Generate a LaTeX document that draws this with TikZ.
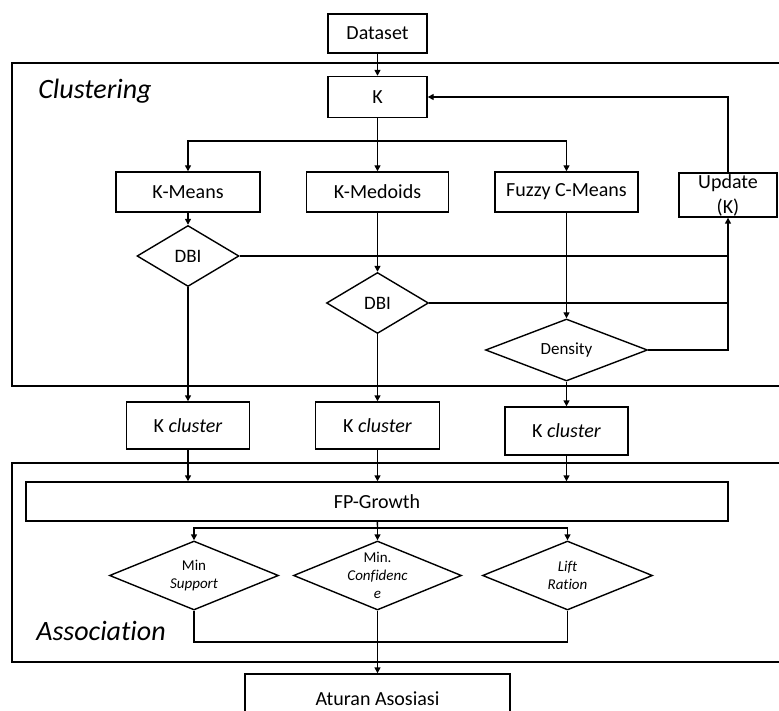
\documentclass[tikz,border=0pt]{standalone}
\usepackage{fontspec}
\setmainfont{Carlito}[Ligatures=NoCommon]
\usetikzlibrary{shapes.geometric,arrows.meta}
\tikzset{
  box/.style={draw, line width=1.4pt, inner sep=0pt, align=center, font=\fontsize{20}{25}\selectfont},
  decision/.style={draw, diamond, line width=1.4pt, inner sep=0pt},
  conn/.style={line width=1.4pt},
  title/.style={font=\fontsize{28}{32}\selectfont\itshape}
}
\begin{document}
\begin{tikzpicture}[x=1pt, y=-1pt, >={Triangle[length=6pt,width=6pt]}]
\useasboundingbox (0,0) rectangle (779,711);

% Clustering
\draw[conn] (12,63) rectangle (800,386);
\node[title] (tclust) at (95,91) {Clustering};
\node[box, minimum width=99pt, minimum height=39pt] (data) at (377.5,33.5) {Dataset};
\node[box, minimum width=99pt, minimum height=41pt] (k) at (377.5,97) {K};
\node[box, minimum width=144pt, minimum height=40pt] (kmeans) at (188,192) {K-Means};
\node[box, minimum width=142pt, minimum height=40pt] (kmedoids) at (377.5,192) {K-Medoids};
\node[box, minimum width=143pt, minimum height=40pt] (fcm) at (566.5,192) {Fuzzy C-Means};
\node[box, minimum width=98pt, minimum height=44pt] (upd) at (728,195) {Update\\(K)};
\node[decision, minimum width=102pt, minimum height=61pt,
  label={[font=\fontsize{19}{22}\selectfont]center:DBI}] (dbi1) at (188,256) {};
\node[decision, minimum width=102pt, minimum height=61pt,
  label={[font=\fontsize{19}{22}\selectfont]center:DBI}] (dbi2) at (377.5,303) {};
\node[decision, minimum width=162pt, minimum height=62pt,
  label={[font=\fontsize{17}{20}\selectfont]center:Density}] (dens) at (566.5,350) {};
\coordinate (split1) at (377.5,141);

\draw[conn,->] (data) -- (k);
\draw[conn] (k) -- (split1);
\draw[conn,->] (split1) -| (kmeans);
\draw[conn,->] (split1) -- (kmedoids);
\draw[conn,->] (split1) -| (fcm);
\draw[conn,->] (kmeans) -- (dbi1);
\draw[conn,->] (kmedoids) -- (dbi2);
\draw[conn,->] (fcm) -- (dens);
\draw[conn] (dbi1.east) -- (dbi1.east -| upd.south);
\draw[conn] (dbi2.east) -- (dbi2.east -| upd.south);
\draw[conn,->] (dens.east) -| (upd.south);
\draw[conn,->] (upd.north) |- (k.east);

% K cluster
\node[box, minimum width=123pt, minimum height=47pt] (kc1) at (188,425.5) {K \textit{cluster}};
\node[box, minimum width=124pt, minimum height=47pt] (kc2) at (377.5,425.5) {K \textit{cluster}};
\node[box, minimum width=123pt, minimum height=48pt] (kc3) at (566.5,431) {K \textit{cluster}};
\draw[conn,->] (dbi1) -- (kc1);
\draw[conn,->] (dbi2) -- (kc2);
\draw[conn,->] (dens) -- (kc3);

% Association
\draw[conn] (12,463) rectangle (800,662);
\node[title] (tassoc) at (101,631) {Association};
\node[box, minimum width=702pt, minimum height=39pt] (fp) at (377,501.5) {FP-Growth};
\node[decision, minimum width=169pt, minimum height=69pt,
  label={[font=\fontsize{15}{18}\selectfont, align=center]center:{Min\\\textit{Support}}}] (minsup) at (194,575.5) {};
\node[decision, minimum width=168pt, minimum height=69pt,
  label={[font=\fontsize{15}{18}\selectfont, align=center]center:{Min.\\\textit{Confidenc}\\\textit{e}}}] (minconf) at (377.5,575.5) {};
\node[decision, minimum width=170pt, minimum height=69pt,
  label={[font=\fontsize{15}{18}\selectfont, align=center]center:{\textit{Lift}\\\textit{Ration}}}] (lift) at (567.5,575.5) {};
\node[box, minimum width=265pt, minimum height=50pt] (rules) at (377.5,699) {Aturan Asosiasi};
\coordinate (split2) at (377.5,528);
\coordinate (join) at (377.5,642);

\draw[conn,->] (kc1) -- (kc1 |- fp.north);
\draw[conn,->] (kc2) -- (kc2 |- fp.north);
\draw[conn,->] (kc3) -- (kc3 |- fp.north);
\draw[conn] (fp) -- (split2);
\draw[conn,->] (split2) -| (minsup);
\draw[conn,->] (split2) -- (minconf);
\draw[conn,->] (split2) -| (lift);
\draw[conn] (minsup.south) |- (join) -| (lift.south);
\draw[conn,->] (minconf) -- (rules);
\end{tikzpicture}
\end{document}
